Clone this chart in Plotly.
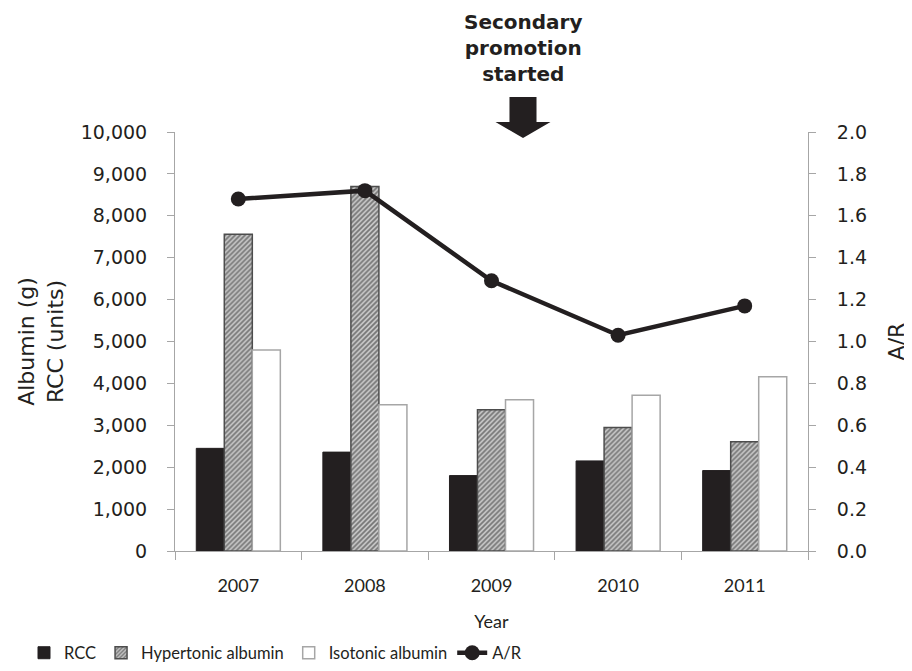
import plotly.graph_objects as go

years = ["2007", "2008", "2009", "2010", "2011"]
rcc = [2450, 2360, 1800, 2150, 1920]
hypertonic = [7560, 8700, 3370, 2950, 2610]
isotonic = [4800, 3490, 3610, 3720, 4160]
ar_ratio = [1.68, 1.72, 1.29, 1.03, 1.17]

DARK = "#231f20"
GREY = "#a6a6a6"
TICK_FONT = dict(family="DejaVu Sans", size=19, color="#231f20")
TITLE_FONT = dict(family="DejaVu Sans", size=22, color="#231f20")
XTICK_FONT = dict(family="Lato", size=18, color="#231f20")
LEG_FONT = dict(family="Lato", size=16.5, color="#231f20")

fig = go.Figure()
fig.add_trace(go.Bar(x=years, y=rcc, name="RCC",
                     marker=dict(color=DARK, line=dict(color=DARK, width=1))))
fig.add_trace(go.Bar(x=years, y=hypertonic, name="Hypertonic albumin",
                     marker=dict(color="#bdbdbd",
                                 line=dict(color="#4d4d4d", width=1.5),
                                 pattern=dict(shape="/", fgcolor="#262626",
                                              bgcolor="#c8c8c8", size=3.5,
                                              solidity=0.5))))
fig.add_trace(go.Bar(x=years, y=isotonic, name="Isotonic albumin",
                     marker=dict(color="white", line=dict(color=GREY, width=1.5))))
fig.add_trace(go.Scatter(x=years, y=ar_ratio, name="A/R", yaxis="y2",
                         mode="lines+markers",
                         line=dict(color=DARK, width=4.5),
                         marker=dict(color=DARK, size=15)))

# page body adds an 8px offset; margins compensate so the plot lands in place
OFF = 8
W, H = 912, 671
L, T = 167, 124
pw, ph = 633, 419
R, B = W - L - pw, H - T - ph


def scr2paper(sx, sy):
    return (sx - OFF - L) / pw, (T + ph - (sy - OFF)) / ph


# block arrow (decoration), screen pixel geometry
cx, top, neck, tip = 523, 97, 122, 138
shaft_half, head_half = 13.5, 27.5
pts = [(cx - shaft_half, top), (cx + shaft_half, top), (cx + shaft_half, neck),
       (cx + head_half, neck), (cx, tip), (cx - head_half, neck),
       (cx - shaft_half, neck)]
path = "M " + " L ".join("%.4f,%.4f" % scr2paper(*p) for p in pts) + " Z"
fig.add_shape(type="path", path=path, xref="paper", yref="paper",
              fillcolor=DARK, line=dict(color=DARK, width=0))

ax, ay = scr2paper(523, 48)
fig.add_annotation(text="Secondary<br>promotion<br>started", x=ax, y=ay,
                   xref="paper", yref="paper", showarrow=False,
                   xanchor="center", yanchor="middle",
                   font=dict(family="DejaVu Sans", size=20, color=DARK,
                             weight="bold"))

lx, ly = scr2paper(24, 653)

fig.update_layout(
    width=W, height=H,
    margin=dict(l=L, r=R, t=T, b=B, autoexpand=False),
    paper_bgcolor="white", plot_bgcolor="white",
    barmode="group", bargap=0.336, bargroupgap=0,
    xaxis=dict(type="category", showline=True, linecolor=GREY, linewidth=1,
               ticks="outside", tickson="boundaries", ticklen=8,
               tickcolor=GREY, tickfont=XTICK_FONT, ticklabelstandoff=18,
               title=dict(text="Year", font=dict(family="Lato", size=18,
                                                 color=DARK), standoff=20),
               showgrid=False, zeroline=False),
    yaxis=dict(range=[0, 10000], dtick=1000, tickformat=",",
               showline=True, linecolor=GREY, linewidth=1,
               ticks="outside", ticklen=7, tickcolor=GREY,
               tickfont=TICK_FONT, ticklabelstandoff=16,
               title=dict(text="Albumin (g)<br>RCC (units)", font=TITLE_FONT,
                          standoff=11),
               showgrid=False, zeroline=False),
    yaxis2=dict(range=[0, 2], dtick=0.2, tickformat=".1f", overlaying="y",
                side="right", showline=True, linecolor=GREY, linewidth=1,
                ticks="outside", ticklen=7, tickcolor=GREY,
                tickfont=TICK_FONT, ticklabelstandoff=17,
                title=dict(text="A/R", font=TITLE_FONT, standoff=22),
                showgrid=False, zeroline=False),
    legend=dict(orientation="h", x=lx, xanchor="left", y=ly,
                yanchor="middle", font=LEG_FONT, traceorder="normal",
                itemwidth=30, tracegroupgap=0),
    showlegend=True,
)

fig.write_html("out.html")
